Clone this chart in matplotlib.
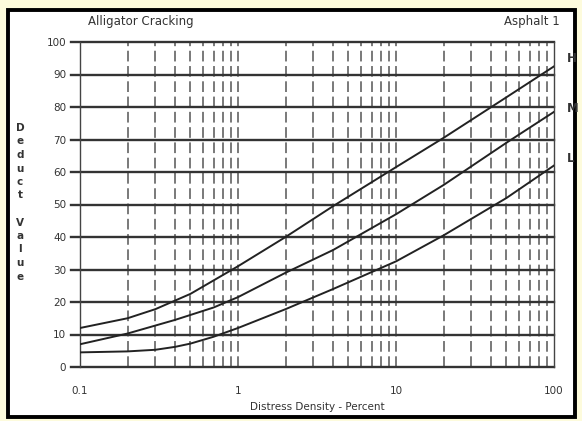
import matplotlib.pyplot as plt
from matplotlib.patches import Rectangle

# values
h_x = [0.1, 0.2, 0.3, 0.5, 1, 2, 4, 10, 20, 50, 100]
h_y = [12, 15, 17.8, 22.5, 31, 40, 49.5, 61.5, 70.5, 83, 92.5]
m_x = [0.1, 0.2, 0.4, 0.7, 1, 2, 4, 10, 20, 50, 100]
m_y = [7, 10.3, 14.5, 18.3, 21.5, 29, 36, 47, 56, 69, 78.5]
l_x = [0.1, 0.2, 0.3, 0.4, 0.5, 0.7, 1, 2, 4, 10, 20, 50, 100]
l_y = [4.5, 4.8, 5.3, 6.2, 7.2, 9.3, 12, 17.8, 24, 32.5, 40.5, 52, 62]

y_ticks = [0, 10, 20, 30, 40, 50, 60, 70, 80, 90, 100]
x_ticks = [0.1, 1, 10, 100]
x_tick_labels = ["0.1", "1", "10", "100"]
minor_x = [m * d for d in [0.1, 1, 10] for m in range(2, 10)] + [1, 10]

fig = plt.figure(figsize=(5.82, 4.21), dpi=100, facecolor="#fdfbdc")
# white sheet with black frame
sheet = Rectangle((8 / 582, 1 - 417 / 421), 567 / 582, 407 / 421,
                  transform=fig.transFigure, facecolor="white",
                  edgecolor="black", linewidth=2.8, zorder=-5)
fig.patches.append(sheet)

ax = fig.add_axes([80 / 582, 1 - 367 / 421, 474 / 582, 325 / 421])
ax.set_facecolor("none")
ax.set_xscale("log")
ax.set_xlim(0.1, 100)
ax.set_ylim(0, 100)

for v in minor_x:
    ax.axvline(v, color="#555555", lw=1.1, ls=(0, (7, 3)), zorder=1)
for v in y_ticks:
    ax.plot([0.088, 100], [v, v], color="#333333", lw=1.7, clip_on=False, zorder=2)

ax.plot(h_x, h_y, color="#222222", lw=1.4, zorder=3)
ax.plot(m_x, m_y, color="#222222", lw=1.4, zorder=3)
ax.plot(l_x, l_y, color="#222222", lw=1.4, zorder=3)

for s in ["top", "bottom"]:
    ax.spines[s].set_visible(False)
ax.spines["left"].set_color("#444444")
ax.spines["right"].set_color("#444444")
ax.spines["left"].set_linewidth(1.0)
ax.spines["right"].set_linewidth(1.0)

ax.set_yticks(y_ticks)
ax.set_xticks(x_ticks)
ax.set_xticklabels(x_tick_labels)
ax.minorticks_off()
ax.tick_params(axis="both", length=0, labelsize=7.5, labelcolor="#333333")
ax.tick_params(axis="y", pad=10)
ax.tick_params(axis="x", pad=14)

fig.text(88 / 582, 1 - 22 / 421, "Alligator Cracking", fontsize=8.5,
         color="#333333", va="center")
fig.text(560 / 582, 1 - 22 / 421, "Asphalt 1", fontsize=8.5,
         color="#333333", va="center", ha="right")
ax.set_xlabel("Distress Density - Percent", fontsize=7.5, color="#333333",
              labelpad=4)

for lab, yv in [("H", 95), ("M", 79.5), ("L", 64)]:
    ax.text(120, yv, lab, fontsize=8.5, fontweight="bold", color="#333333",
            va="center")

for i, ch in enumerate("Deduct Value"):
    fig.text(20 / 582, 1 - (128 + i * 13.5) / 421, ch, fontsize=7.5,
             fontweight="bold", color="#333333", ha="center", va="center")

fig.savefig("out.png", dpi=100, facecolor=fig.get_facecolor())
